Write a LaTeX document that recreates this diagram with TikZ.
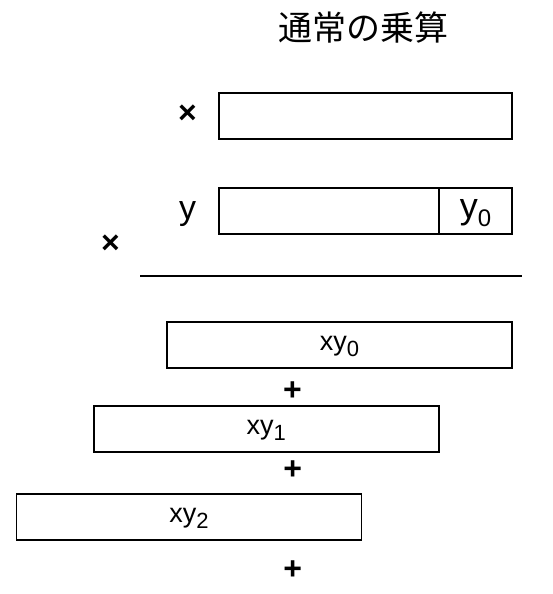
\documentclass[tikz,border=0pt]{standalone}
\usepackage{fontspec}
\setmainfont{Liberation Sans}
\newfontfamily\jpfont{Noto Sans CJK JP}
\newcommand\mysub[3]{\raisebox{-#3pt}{\fontsize{#2}{#2}\selectfont #1}}
\begin{document}
\begin{tikzpicture}[x=1pt,y=-1pt,
  box/.style={draw=black, line width=1.8pt, rectangle, inner sep=0pt, anchor=north west, minimum height=46pt},
  lbl/.style={inner sep=0pt, anchor=base},
  op/.style={inner sep=0pt, font=\bfseries\fontsize{32}{32}\selectfont},
  rule/.style={line width=2pt}]
\useasboundingbox (0,0) rectangle (552,594);
% title
\node[inner sep=0pt, font=\jpfont\fontsize{34}{34}\selectfont] (title) at (363,27.5) {通常の乗算};
% multiplicand
\node[op] (times1) at (187.5,114) {×};
\node[box, minimum width=293.5pt] (bx) at (217.75,91.75) {};
% multiplier
\node[lbl, font=\fontsize{34}{34}\selectfont] (ylab) at (187.7,219.5) {y};
\node[box, minimum width=220.25pt] (yleft) at (217.75,186.75) {};
\node[box, minimum width=73.25pt] (ycell) at (438,186.75) {};
\node[lbl, font=\fontsize{36}{36}\selectfont] (y0) at ([yshift=-7.5pt]ycell.center) {y\mysub{0}{24}{8}};
\node[op] (times2) at (110.5,244) {×};
% rule
\coordinate (la) at (140,276.3);
\coordinate (lb) at (522.3,276.3);
\draw[rule] (la) -- (lb);
% partial products
\node[box, minimum width=345pt] (p0) at (166,320.75) {};
\node[lbl, font=\fontsize{27}{27}\selectfont] (t0) at ([yshift=-5.6pt]p0.center) {xy\mysub{0}{22}{6.4}};
\node[op] (plus1) at (292.5,391) {+};
\node[box, minimum width=345pt] (p1) at (92.75,404.75) {};
\node[lbl, font=\fontsize{27}{27}\selectfont] (t1) at ([yshift=-5.6pt]p1.center) {xy\mysub{1}{22}{6.4}};
\node[op] (plus2) at (292.7,470) {+};
\node[box, minimum width=345pt] (p2) at (15.5,493) {};
\node[lbl, font=\fontsize{27}{27}\selectfont] (t2) at ([yshift=-5.6pt]p2.center) {xy\mysub{2}{22}{6.4}};
\node[op] (plus3) at (292.7,570) {+};
\end{tikzpicture}
\end{document}
